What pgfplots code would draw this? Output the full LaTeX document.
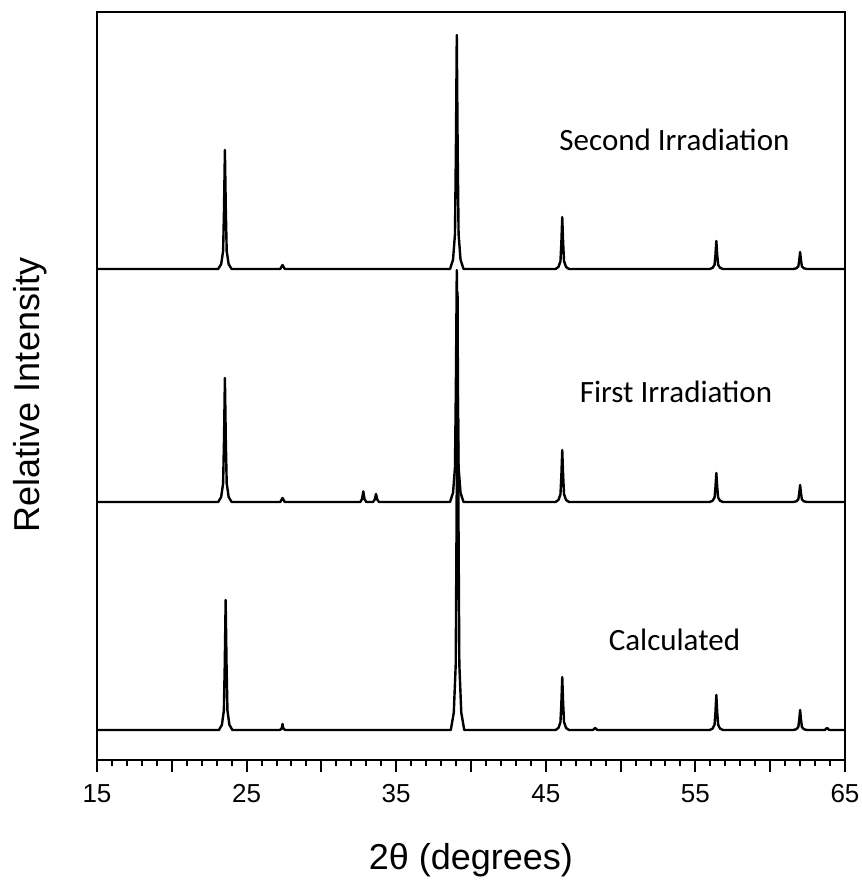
\documentclass[border=0pt]{standalone}
\usepackage{pgfplots}
\pgfplotsset{compat=1.18}
\usepackage{fontspec}
\setmainfont{Liberation Sans}
\newfontfamily\carlitofont{Carlito}
\begin{document}
\begin{tikzpicture}
\begin{axis}[
  width=374pt, height=374pt, scale only axis,
  xmin=15, xmax=65, ymin=0, ymax=748,
  axis line style={line width=1pt},
  xtick={15,20,...,65},
  xticklabels={15,,25,,35,,45,,55,,65},
  minor x tick num=4,
  ytick=\empty,
  xtick pos=left,
  tick align=outside,
  major tick length=6pt, minor tick length=3pt,
  every tick/.style={line width=1pt, black},
  /pgf/number format/assume math mode=true,
  xticklabel style={font=\fontsize{13}{13}\selectfont, inner sep=1pt, yshift=-5pt},
  xlabel={2θ (degrees)},
  ylabel={Relative Intensity},
  xlabel style={font=\fontsize{18}{18}\selectfont, at={(axis description cs:0.5,0)}, anchor=center, yshift=-50pt},
  ylabel style={font=\fontsize{18}{18}\selectfont, at={(axis description cs:0,0.488)}, anchor=center, yshift=33.5pt},
  clip=true,
]
% Calculated
\addplot[black, line width=1.2pt, line join=round] coordinates {
(15,30) (23.15,30) (23.35,35.2) (23.48,49.5) (23.54,95) (23.6,160) (23.66,95) (23.72,49.5) (23.85,35.2) (24.05,30)
(27.2,30) (27.32,31) (27.37,33) (27.4,36) (27.43,33) (27.48,31) (27.6,30)
(38.65,30) (38.85,47.5) (38.98,95.7) (39.04,249) (39.1,468) (39.16,249) (39.22,95.7) (39.35,47.5) (39.55,30)
(45.65,30) (45.85,32.1) (45.98,38) (46.04,56.5) (46.1,83) (46.16,56.5) (46.22,38) (46.35,32.1) (46.55,30)
(48.15,30) (48.3,32) (48.45,30)
(55.95,30) (56.15,31.4) (56.28,35.3) (56.34,47.5) (56.4,65) (56.46,47.5) (56.52,35.3) (56.65,31.4) (56.85,30)
(61.55,30) (61.75,30.8) (61.88,33) (61.94,40) (62.0,50) (62.06,40) (62.12,33) (62.25,30.8) (62.45,30)
(63.65,30) (63.8,32) (63.95,30) (65,30)
};
% First irradiation
\addplot[black, line width=1.2pt, line join=round] coordinates {
(15,258) (23.1,258) (23.3,263) (23.43,276.6) (23.49,320) (23.55,382) (23.61,320) (23.67,276.6) (23.8,263) (24.0,258)
(27.25,258) (27.4,262) (27.55,258)
(32.6,258) (32.72,261) (32.8,268.6) (32.88,261) (33.0,258)
(33.45,258) (33.57,260.5) (33.65,266) (33.73,260.5) (33.85,258)
(38.6,258) (38.8,267.3) (38.93,292.8) (38.99,374) (39.05,490) (39.11,374) (39.17,292.8) (39.3,267.3) (39.5,258)
(45.65,258) (45.85,260.1) (45.98,265.8) (46.04,284) (46.1,310) (46.16,284) (46.22,265.8) (46.35,260.1) (46.55,258)
(55.95,258) (56.15,259.2) (56.28,262.4) (56.34,272.5) (56.4,287) (56.46,272.5) (56.52,262.4) (56.65,259.2) (56.85,258)
(61.55,258) (61.75,258.7) (61.88,260.6) (61.94,266.5) (62.0,275) (62.06,266.5) (62.12,260.6) (62.25,258.7) (62.45,258)
(65,258)
};
% Second irradiation
\addplot[black, line width=1.2pt, line join=round] coordinates {
(15,491) (23.1,491) (23.3,495.8) (23.43,508.9) (23.49,550.5) (23.55,610) (23.61,550.5) (23.67,508.9) (23.8,495.8) (24.0,491)
(27.25,491) (27.4,495) (27.55,491)
(38.6,491) (38.8,500.4) (38.93,526.1) (38.99,608) (39.05,725) (39.11,608) (39.17,526.1) (39.3,500.4) (39.5,491)
(45.65,491) (45.85,493.1) (45.98,498.8) (46.04,517) (46.1,543) (46.16,517) (46.22,498.8) (46.35,493.1) (46.55,491)
(55.95,491) (56.15,492.1) (56.28,495.2) (56.34,505) (56.4,519) (56.46,505) (56.52,495.2) (56.65,492.1) (56.85,491)
(61.55,491) (61.75,491.7) (61.88,493.6) (61.94,499.5) (62.0,508) (62.06,499.5) (62.12,493.6) (62.25,491.7) (62.45,491)
(65,491)
};
\node[font=\carlitofont\fontsize{15.5}{15.5}\selectfont] at (axis cs:53.6,620) {Second Irradiation};
\node[font=\carlitofont\fontsize{15.5}{15.5}\selectfont] at (axis cs:53.7,368) {First Irradiation};
\node[font=\carlitofont\fontsize{15.5}{15.5}\selectfont] at (axis cs:53.6,120) {Calculated};
\end{axis}
\path ([shift={(-48.5pt,-64pt)}]current axis.south west) rectangle ([shift={(8.5pt,6pt)}]current axis.north east);
\end{tikzpicture}
\end{document}
